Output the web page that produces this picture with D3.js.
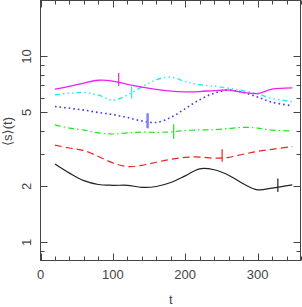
<!DOCTYPE html>
<html>
<head>
<meta charset="utf-8">
<script src="https://cdn.jsdelivr.net/npm/d3@7"></script>
<style>
  html, body { margin: 0; padding: 0; background: #fff; }
  svg { display: block; }
  text { font-family: "Liberation Sans", "DejaVu Sans", Arial, sans-serif; fill: #444; }
</style>
</head>
<body>
<script>
// ---- data ----
const tValues = [20, 40, 60, 80, 100, 120, 140, 160, 180, 200, 220, 240, 260, 280, 300, 320, 348];
const blackSeries   = [2.64, 2.36, 2.15, 2.05, 2.03, 2.03, 1.98, 2.00, 2.10, 2.28, 2.49, 2.46, 2.30, 2.07, 1.92, 1.96, 2.04];
const redSeries     = [3.34, 3.22, 3.12, 2.90, 2.68, 2.56, 2.60, 2.70, 2.80, 2.87, 2.88, 2.84, 2.87, 2.98, 3.09, 3.17, 3.28];
const greenSeries   = [4.29, 4.12, 4.02, 3.88, 3.83, 3.88, 3.92, 3.91, 3.93, 4.00, 4.03, 4.04, 4.10, 4.16, 4.12, 4.02, 3.98];
const blueSeries    = [5.38, 5.27, 5.15, 5.00, 4.87, 4.70, 4.50, 4.42, 4.70, 5.25, 5.85, 6.35, 6.60, 6.42, 6.05, 5.68, 5.43];
const cyanSeries    = [6.22, 6.35, 6.40, 6.20, 5.82, 6.20, 6.85, 7.50, 7.75, 7.33, 7.05, 6.92, 6.75, 6.55, 6.30, 5.95, 5.72];
const magentaSeries = [6.67, 6.90, 7.20, 7.45, 7.38, 7.08, 6.85, 6.65, 6.52, 6.46, 6.48, 6.56, 6.60, 6.42, 6.32, 6.67, 6.78];

// error bars: [t, low, high] per series
const errBars = {
  black:   [328, 1.87, 2.21],
  red:     [251, 2.72, 3.17],
  green:   [184, 3.60, 4.32],
  blue:    [148, 4.11, 4.95],
  cyan:    [126, 5.92, 6.89],
  magenta: [108, 6.95, 8.14]
};

const xMajorTicks = [0, 100, 200, 300];
const xMinorTicks = d3.range(0, 361, 20).filter(v => v % 100 !== 0);
const yMajorTicks = [1, 2, 5, 10];
const yMinorTicks = [0.9, 3, 4, 6, 7, 8, 9];
const xLabel = "t";
const yLabel = "\u27E8s\u27E9(t)";

// ---- layout ----
const W = 302, H = 307;
const L = 40.5, R = 300.5, T = 0.5, B = 260.5;

const svg = d3.select("body").append("svg").attr("width", W).attr("height", H);

const x = d3.scaleLinear().domain([0, 360]).range([L, R + 0.5]);
const y = d3.scaleLog().domain([0.8, 20]).range([B, T]);

const seriesDefs = [
  { name: "black",   vals: blackSeries,   color: "#222222", dash: null,                      width: 1.2 },
  { name: "red",     vals: redSeries,     color: "#ee2222", dash: "7,4",                     width: 1.2 },
  { name: "green",   vals: greenSeries,   color: "#22e622", dash: "6,3,1.5,3",               width: 1.2 },
  { name: "blue",    vals: blueSeries,    color: "#3a3aee", dash: "1.6,3",                   width: 1.6 },
  { name: "cyan",    vals: cyanSeries,    color: "#22eeee", dash: "5,3,1.5,3,1.5,3,1.5,3",   width: 1.4 },
  { name: "magenta", vals: magentaSeries, color: "#ee22ee", dash: null,                      width: 1.3 }
];

const line = d3.line()
  .x(d => x(d[0]))
  .y(d => y(d[1]))
  .curve(d3.curveCatmullRom.alpha(0.5));

const g = svg.append("g");

seriesDefs.forEach(s => {
  const pts = tValues.map((t, i) => [t, s.vals[i]]);
  g.append("path")
    .attr("d", line(pts))
    .attr("fill", "none")
    .attr("stroke", s.color)
    .attr("stroke-width", s.width)
    .attr("stroke-dasharray", s.dash);
  const eb = errBars[s.name];
  g.append("line")
    .attr("x1", x(eb[0])).attr("x2", x(eb[0]))
    .attr("y1", y(eb[1])).attr("y2", y(eb[2]))
    .attr("stroke", s.name === "blue" ? "#8080ff" : s.color)
    .attr("stroke-width", s.name === "blue" ? 2.5 : 1.2);
});

// ---- frame ----
const axisColor = "#444";
svg.append("rect")
  .attr("x", L).attr("y", T).attr("width", R - L).attr("height", B - T)
  .attr("fill", "none").attr("stroke", axisColor).attr("stroke-width", 1);

// ticks (inward, all four sides)
const tk = svg.append("g").attr("stroke", axisColor).attr("stroke-width", 1);
function xTick(v, len) {
  const px = Math.round(x(v)) + 0.5;
  tk.append("line").attr("x1", px).attr("x2", px).attr("y1", B).attr("y2", B - len);
  tk.append("line").attr("x1", px).attr("x2", px).attr("y1", T).attr("y2", T + len);
}
function yTick(v, len) {
  const py = Math.round(y(v)) + 0.5;
  tk.append("line").attr("x1", L).attr("x2", L + len).attr("y1", py).attr("y2", py);
  tk.append("line").attr("x1", R).attr("x2", R - len).attr("y1", py).attr("y2", py);
}
xMajorTicks.forEach(v => xTick(v, 7));
xMinorTicks.forEach(v => xTick(v, 4));
yMajorTicks.forEach(v => yTick(v, 7));
yMinorTicks.forEach(v => yTick(v, 4));

// tick labels
svg.append("g").selectAll("text").data(xMajorTicks).join("text")
  .attr("x", d => x(d)).attr("y", 279)
  .attr("text-anchor", "middle")
  .attr("font-size", 13)
  .text(d => d);

svg.append("g").selectAll("text").data(yMajorTicks).join("text")
  .attr("transform", d => `translate(31,${y(d)}) rotate(-90)`)
  .attr("text-anchor", "middle")
  .attr("font-size", 13)
  .text(d => d);

// axis labels
svg.append("text")
  .attr("x", x(180)).attr("y", 304)
  .attr("text-anchor", "middle")
  .attr("font-size", 13)
  .text(xLabel);

svg.append("text")
  .attr("transform", `translate(12,131.5) rotate(-90)`)
  .attr("text-anchor", "middle")
  .attr("font-size", 13)
  .text(yLabel);
</script>
</body>
</html>
